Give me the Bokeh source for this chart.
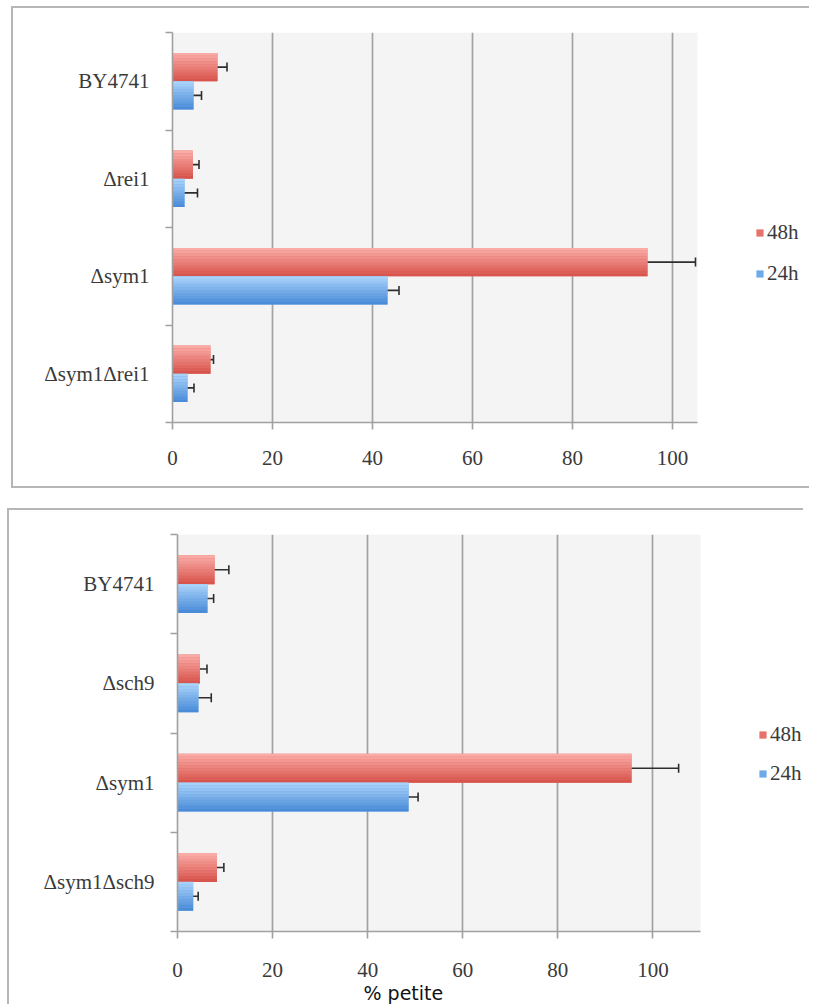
from bokeh.plotting import figure
from bokeh.models import (Range1d, LinearAxis, FixedTicker, CustomJSTickFormatter, Title,
                          Legend, LegendItem, ColumnDataSource, Whisker, TeeHead)
from bokeh.transform import dodge
from bokeh.layouts import column
from bokeh.embed import file_html
from bokeh.resources import INLINE

# ---- data -------------------------------------------------------------
series = ["48h", "24h"]
x_ticks = [0, 20, 40, 60, 80, 100]
x_label = "% petite"

strains_a = ["BY4741", "Δrei1", "Δsym1", "Δsym1Δrei1"]
petite_48h_a = [9.0, 4.1, 95.0, 7.6]
err_48h_a = [1.9, 1.2, 9.6, 0.6]
petite_24h_a = [4.2, 2.4, 43.0, 3.0]
err_24h_a = [1.6, 2.6, 2.3, 1.3]

strains_b = ["BY4741", "Δsch9", "Δsym1", "Δsym1Δsch9"]
petite_48h_b = [7.8, 4.7, 95.5, 8.3]
err_48h_b = [3.0, 1.5, 9.9, 1.45]
petite_24h_b = [6.3, 4.4, 48.6, 3.3]
err_24h_b = [1.3, 2.7, 2.0, 1.05]

# ---- styling ----------------------------------------------------------
SERIF = "Liberation Serif"
RED_TOP, RED_BOTTOM, RED_MID = "#faaba6", "#d8554d", "#e6726b"
BLUE_TOP, BLUE_BOTTOM, BLUE_MID = "#a9d2fa", "#4a8cd8", "#6ea9e8"
AXIS_GREY = "#a0a0a0"
TEXT = "#3a3a3a"
PLOT_BG = "#f4f4f4"
BAR_H = 0.29
N_SLICES = 10


def hex_to_rgb(h):
    h = h.lstrip("#")
    return tuple(int(h[i:i + 2], 16) for i in (0, 2, 4))


def blend(c0, c1, t):
    a, b = hex_to_rgb(c0), hex_to_rgb(c1)
    return "#%02x%02x%02x" % tuple(round(a[i] + (b[i] - a[i]) * t) for i in range(3))


def gradient_bar(p, source, field, center, top, bottom, mid):
    """Horizontal bar with a vertical light-to-dark gradient."""
    base = p.hbar(y=dodge("pos", center), right=field, left=0, height=BAR_H,
                  source=source, fill_color=mid, line_color=None)
    h = BAR_H / N_SLICES
    for i in range(N_SLICES):
        off = center + BAR_H / 2 - (i + 0.5) * h
        p.hbar(y=dodge("pos", off), right=field, left=0, height=h * 1.03,
               source=source, fill_color=blend(top, bottom, i / (N_SLICES - 1)),
               line_color=None)
    return base


def make_panel(strains, v48, e48, v24, e24, x_max, area_px, width, height, mb, margin,
               styles, legend_pos, legend_spacing, tick_standoff, with_xlabel=False):
    """area_px: pixel width of the shaded plot area that spans 0..x_max.
    The drawing frame runs on to the right so the legend sits inside it."""
    n = len(strains)
    frame_px = width - mb[0] - mb[1]
    x_end = x_max * frame_px / area_px
    p = figure(y_range=Range1d(0, n), x_range=Range1d(0, x_end),
               width=width, height=height, output_backend="svg", toolbar_location=None,
               y_axis_location=None, x_axis_location="below",
               min_border_left=mb[0], min_border_right=mb[1],
               min_border_top=mb[2], min_border_bottom=mb[3],
               background_fill_color="white", border_fill_color="white",
               outline_line_color=None, margin=margin, styles=styles)

    # shaded plot area 0..x_max
    p.quad(left=[0], right=[x_max], bottom=[0], top=[n], fill_color=PLOT_BG,
           line_color=None, level="image")

    # first strain at the top, one unit band per strain
    src = ColumnDataSource(dict(
        strain=strains,
        pos=[n - i - 0.5 for i in range(n)],
        v48=v48, lo48=[v - e for v, e in zip(v48, e48)], hi48=[v + e for v, e in zip(v48, e48)],
        v24=v24, lo24=[v - e for v, e in zip(v24, e24)], hi24=[v + e for v, e in zip(v24, e24)],
    ))

    off = BAR_H / 2
    r48 = gradient_bar(p, src, "v48", off, RED_TOP, RED_BOTTOM, RED_MID)
    r24 = gradient_bar(p, src, "v24", -off, BLUE_TOP, BLUE_BOTTOM, BLUE_MID)

    for lo, hi, c in (("lo48", "hi48", off), ("lo24", "hi24", -off)):
        w = Whisker(source=src, base=dodge("pos", c), lower=lo, upper=hi,
                    dimension="width", line_color="#2e2e2e", line_width=1.6,
                    upper_head=TeeHead(size=9, line_color="#2e2e2e", line_width=1.6),
                    lower_head=TeeHead(size=9, line_color="#2e2e2e", line_width=1.6))
        p.add_layout(w)

    # grid & x axis
    p.ygrid.visible = False
    p.xgrid.ticker = FixedTicker(ticks=x_ticks)
    p.xgrid.grid_line_color = "#a2a2a2"
    p.xgrid.grid_line_width = 1.7
    xa = p.xaxis[0]
    xa.ticker = FixedTicker(ticks=x_ticks)
    xa.bounds = (0, x_max)
    xa.axis_line_color = AXIS_GREY
    xa.axis_line_width = 1.6
    xa.major_tick_line_color = AXIS_GREY
    xa.major_tick_line_width = 1.6
    xa.major_tick_out = 7
    xa.major_tick_in = 0
    xa.minor_tick_line_color = None
    xa.major_label_text_font = SERIF
    xa.major_label_text_font_size = "21px"
    xa.major_label_text_color = TEXT
    xa.major_label_standoff = tick_standoff

    # left side: tick marks on band boundaries, strain names at band centres
    bounds_axis = LinearAxis(ticker=FixedTicker(ticks=list(range(n + 1))),
                             major_label_overrides={i: "" for i in range(n + 1)},
                             major_label_standoff=0, major_tick_out=7, major_tick_in=0,
                             minor_tick_line_color=None, axis_line_color=AXIS_GREY,
                             axis_line_width=1.6, major_tick_line_color=AXIS_GREY,
                             major_tick_line_width=1.6)
    name_axis = LinearAxis(ticker=FixedTicker(ticks=src.data["pos"]),
                           formatter=CustomJSTickFormatter(
                               args=dict(names=list(reversed(strains))),
                               code="return names[Math.round(tick - 0.5)]"),
                           axis_line_color=None, major_tick_line_color=None,
                           minor_tick_line_color=None,
                           major_tick_out=0, major_tick_in=0, major_label_standoff=16,
                           major_label_text_font=SERIF, major_label_text_font_size="21px",
                           major_label_text_color=TEXT)
    p.add_layout(bounds_axis, "left")
    p.add_layout(name_axis, "left")

    legend = Legend(items=[LegendItem(label=series[0], renderers=[r48]),
                           LegendItem(label=series[1], renderers=[r24])],
                    location=legend_pos, glyph_width=9, glyph_height=9, label_standoff=3,
                    spacing=legend_spacing, padding=0, margin=0, border_line_color=None,
                    background_fill_alpha=0, label_text_font=SERIF,
                    label_text_font_size="21px", label_text_color=TEXT)
    p.add_layout(legend)

    if with_xlabel:
        p.add_layout(Title(text=x_label, align="left", offset=186, standoff=0,
                           text_font="DejaVu Sans", text_font_size="19px",
                           text_font_style="normal", text_color="#111111"), "below")
    return p


BORDER = "2px solid #b6b6b6"
top = make_panel(strains_a, petite_48h_a, err_48h_a, petite_24h_a, err_24h_a, 105, 525,
                 width=798, height=482, mb=(159, 5, 24, 68), margin=(6, 0, 0, 11),
                 styles={"border-top": BORDER, "border-left": BORDER, "border-bottom": BORDER},
                 legend_pos=(583, 136), legend_spacing=16, tick_standoff=21)
# the lower panel runs past the bottom edge of the page, as a cropped figure
bottom = make_panel(strains_b, petite_48h_b, err_48h_b, petite_24h_b, err_24h_b, 110, 523,
                    width=796, height=499, mb=(159, 5, 24, 78), margin=(20, 0, -10, 7),
                    styles={"border-top": BORDER, "border-left": BORDER,
                            "padding-left": "9px"},
                    legend_pos=(581, 145), legend_spacing=14, tick_standoff=24,
                    with_xlabel=True)

layout = column(top, bottom)
open("out.html", "w").write(file_html(layout, INLINE))
